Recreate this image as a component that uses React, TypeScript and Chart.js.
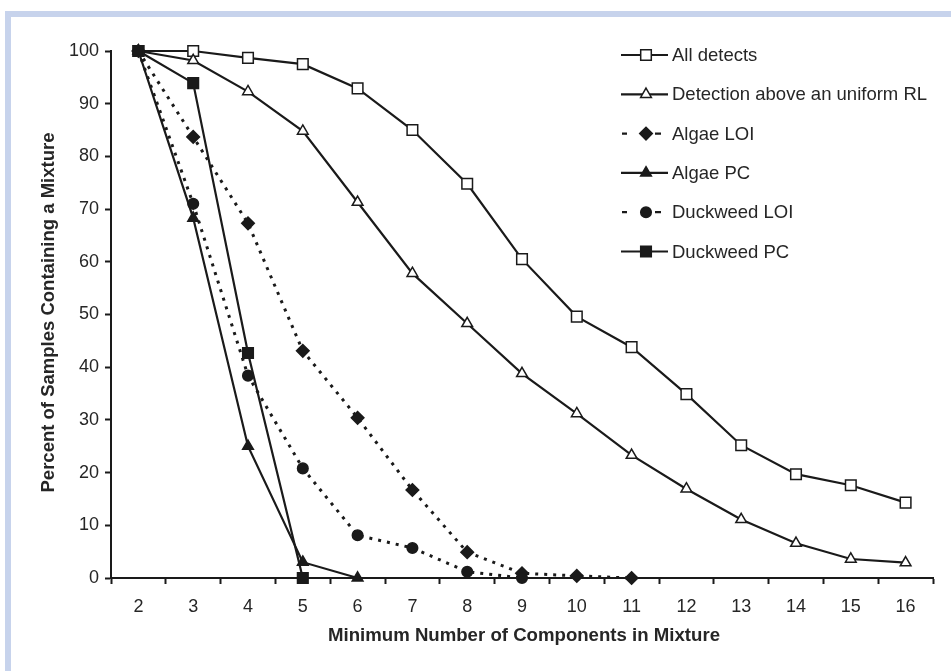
import React, { useEffect, useRef } from "react";
import { Chart, registerables } from "chart.js";

Chart.register(...registerables);

// ---------- data ----------
const categories = ["2", "3", "4", "5", "6", "7", "8", "9", "10", "11", "12", "13", "14", "15", "16"];

const allDetects = [100, 100, 98.7, 97.5, 92.9, 85, 74.8, 60.5, 49.6, 43.8, 34.9, 25.2, 19.7, 17.6, 14.3];
const detectionAboveRL = [100, 98.2, 92.3, 84.8, 71.3, 57.8, 48.3, 38.8, 31.2, 23.3, 16.9, 11.1, 6.6, 3.6, 2.9];
const algaeLOI = [100, 83.7, 67.3, 43.1, 30.4, 16.7, 4.9, 0.9, 0.4, 0, null, null, null, null, null];
const algaePC = [100, 68.3, 25.0, 3.0, 0, null, null, null, null, null, null, null, null, null, null];
const duckweedLOI = [100, 71.0, 38.4, 20.8, 8.1, 5.7, 1.2, 0, null, null, null, null, null, null, null];
const duckweedPC = [100, 93.9, 42.7, 0, null, null, null, null, null, null, null, null, null, null, null];

const seriesLabels = [
  "All detects",
  "Detection above an uniform RL",
  "Algae LOI",
  "Algae PC",
  "Duckweed LOI",
  "Duckweed PC",
];

const yMin = 0;
const yMax = 100;
const yStep = 10;

const xTitle = "Minimum Number of Components in Mixture";
const yTitle = "Percent of Samples Containing a Mixture";

// ---------- styles ----------
const INK = "#1a1a1a";
const TEXT = "#262626";
const FONT = "'Liberation Sans', Arial, Helvetica, sans-serif";
const FRAME = "#c7d3ec";

type MarkerStyle = "rect" | "triangle" | "rectRot" | "circle";

function drawMarker(
  ctx: CanvasRenderingContext2D,
  style: MarkerStyle,
  x: number,
  y: number,
  r: number,
  fill: string,
  stroke: string,
  lw: number
) {
  ctx.save();
  ctx.beginPath();
  if (style === "rect") {
    const s = Math.SQRT1_2 * r;
    ctx.rect(x - s, y - s, 2 * s, 2 * s);
  } else if (style === "rectRot") {
    ctx.moveTo(x, y - r);
    ctx.lineTo(x + r, y);
    ctx.lineTo(x, y + r);
    ctx.lineTo(x - r, y);
    ctx.closePath();
  } else if (style === "triangle") {
    const a = Math.PI / 2;
    ctx.moveTo(x + Math.cos(-a) * r, y + Math.sin(-a) * r);
    ctx.lineTo(x + Math.cos(-a + (2 * Math.PI) / 3) * r, y + Math.sin(-a + (2 * Math.PI) / 3) * r);
    ctx.lineTo(x + Math.cos(-a + (4 * Math.PI) / 3) * r, y + Math.sin(-a + (4 * Math.PI) / 3) * r);
    ctx.closePath();
  } else {
    ctx.arc(x, y, r, 0, Math.PI * 2);
  }
  ctx.fillStyle = fill;
  ctx.fill();
  ctx.lineWidth = lw;
  ctx.strokeStyle = stroke;
  ctx.setLineDash([]);
  ctx.stroke();
  ctx.restore();
}

const framePlugin = {
  id: "framePlugin",
  beforeDraw(chart: any) {
    const ctx = chart.ctx as CanvasRenderingContext2D;
    ctx.save();
    ctx.fillStyle = "#ffffff";
    ctx.fillRect(0, 0, chart.width, chart.height);
    ctx.fillStyle = FRAME;
    ctx.fillRect(5, 11, chart.width - 5, 6);
    ctx.fillRect(5, 11, 6, chart.height - 11);
    ctx.restore();
  },
};

function fittedText(
  ctx: CanvasRenderingContext2D,
  text: string,
  cx: number,
  cy: number,
  length: number,
  font: string,
  rotate: boolean
) {
  ctx.save();
  ctx.font = font;
  ctx.fillStyle = TEXT;
  ctx.textAlign = "center";
  ctx.textBaseline = "middle";
  const w = ctx.measureText(text).width;
  ctx.translate(cx, cy);
  if (rotate) ctx.rotate(-Math.PI / 2);
  ctx.scale(length / w, 1);
  ctx.fillText(text, 0, 0);
  ctx.restore();
}

const titlesPlugin = {
  id: "titlesPlugin",
  afterDraw(chart: any) {
    const ctx = chart.ctx as CanvasRenderingContext2D;
    const area = chart.chartArea;
    fittedText(ctx, xTitle, (area.left + area.right) / 2 + 2, 636, 392, `bold 18px ${FONT}`, false);
    fittedText(ctx, yTitle, 49, (area.top + area.bottom) / 2 - 2, 360, `bold 18px ${FONT}`, true);
  },
};

const legendPlugin = {
  id: "customLegend",
  afterDraw(chart: any) {
    const ctx = chart.ctx as CanvasRenderingContext2D;
    const x0 = 621;
    const x1 = 668;
    const mx = 646;
    const top = 55;
    const step = 39.3;
    chart.data.datasets.forEach((ds: any, i: number) => {
      const y = top + i * step;
      ctx.save();
      ctx.strokeStyle = INK;
      ctx.lineWidth = 2.2;
      ctx.beginPath();
      if (ds.borderDash && ds.borderDash.length) {
        ctx.moveTo(x0 + 1, y);
        ctx.lineTo(x0 + 6, y);
        ctx.moveTo(x1 - 13, y);
        ctx.lineTo(x1 - 7, y);
      } else {
        ctx.moveTo(x0, y);
        ctx.lineTo(x1, y);
      }
      ctx.stroke();
      ctx.restore();
      drawMarker(ctx, ds.pointStyle, mx, y, ds.pointRadius, ds.pointBackgroundColor, INK, ds.pointBorderWidth);
      ctx.save();
      ctx.font = `18.5px ${FONT}`;
      ctx.fillStyle = TEXT;
      ctx.textAlign = "left";
      ctx.textBaseline = "middle";
      ctx.fillText(ds.label, 672, y + 1);
      ctx.restore();
    });
  },
};

function makeDataset(
  index: number,
  data: (number | null)[],
  pointStyle: MarkerStyle,
  radius: number,
  filled: boolean,
  dashed: boolean
) {
  return {
    label: seriesLabels[index],
    data,
    order: 10 - index,
    borderColor: INK,
    borderWidth: dashed ? 3 : 2.2,
    borderDash: dashed ? [3, 6] : [],
    pointStyle,
    pointRadius: radius,
    pointHoverRadius: radius,
    pointBackgroundColor: filled ? INK : "#ffffff",
    pointBorderColor: INK,
    pointBorderWidth: 1.5,
    tension: 0,
    fill: false,
    clip: false,
  };
}

export default function App() {
  const canvasRef = useRef<HTMLCanvasElement | null>(null);

  useEffect(() => {
    const canvas = canvasRef.current;
    if (!canvas) return;
    const chart = new Chart(canvas, {
      type: "line",
      data: {
        labels: categories,
        datasets: [
          makeDataset(0, allDetects, "rect", 7.5, false, false),
          makeDataset(1, detectionAboveRL, "triangle", 6.2, false, false),
          makeDataset(2, algaeLOI, "rectRot", 6.3, true, true),
          makeDataset(3, algaePC, "triangle", 6.2, true, false),
          makeDataset(4, duckweedLOI, "circle", 5.3, true, true),
          makeDataset(5, duckweedPC, "rect", 7.5, true, false),
        ],
      },
      options: {
        responsive: false,
        animation: false,
        events: [],
        layout: { padding: { left: 0, top: 51, right: 18, bottom: 0 } },
        plugins: {
          legend: { display: false },
          tooltip: { enabled: false },
          title: { display: false },
        },
        scales: {
          x: {
            type: "category",
            offset: true,
            grid: {
              offset: true,
              drawOnChartArea: false,
              drawTicks: true,
              tickLength: 6,
              tickWidth: 2,
              tickColor: INK,
            },
            border: { display: true, color: INK, width: 2 },
            ticks: {
              color: TEXT,
              font: { family: FONT, size: 18 },
              padding: 12,
              maxRotation: 0,
              autoSkip: false,
            },
            afterFit: (s: any) => {
              s.height = 93;
            },
          },
          y: {
            min: yMin,
            max: yMax,
            grid: {
              drawOnChartArea: false,
              drawTicks: true,
              tickLength: 6,
              tickWidth: 2,
              tickColor: INK,
            },
            border: { display: true, color: INK, width: 2 },
            ticks: {
              stepSize: yStep,
              color: TEXT,
              font: { family: FONT, size: 18 },
              padding: 6,
            },
            afterFit: (s: any) => {
              s.width = 111;
            },
          },
        },
      },
      plugins: [framePlugin, titlesPlugin, legendPlugin],
    });
    return () => chart.destroy();
  }, []);

  return (
    <div style={{ position: "absolute", left: 0, top: 0, width: 951, height: 671, background: "#fff" }}>
      <canvas ref={canvasRef} width={951} height={671} style={{ display: "block", width: 951, height: 671 }} />
    </div>
  );
}
